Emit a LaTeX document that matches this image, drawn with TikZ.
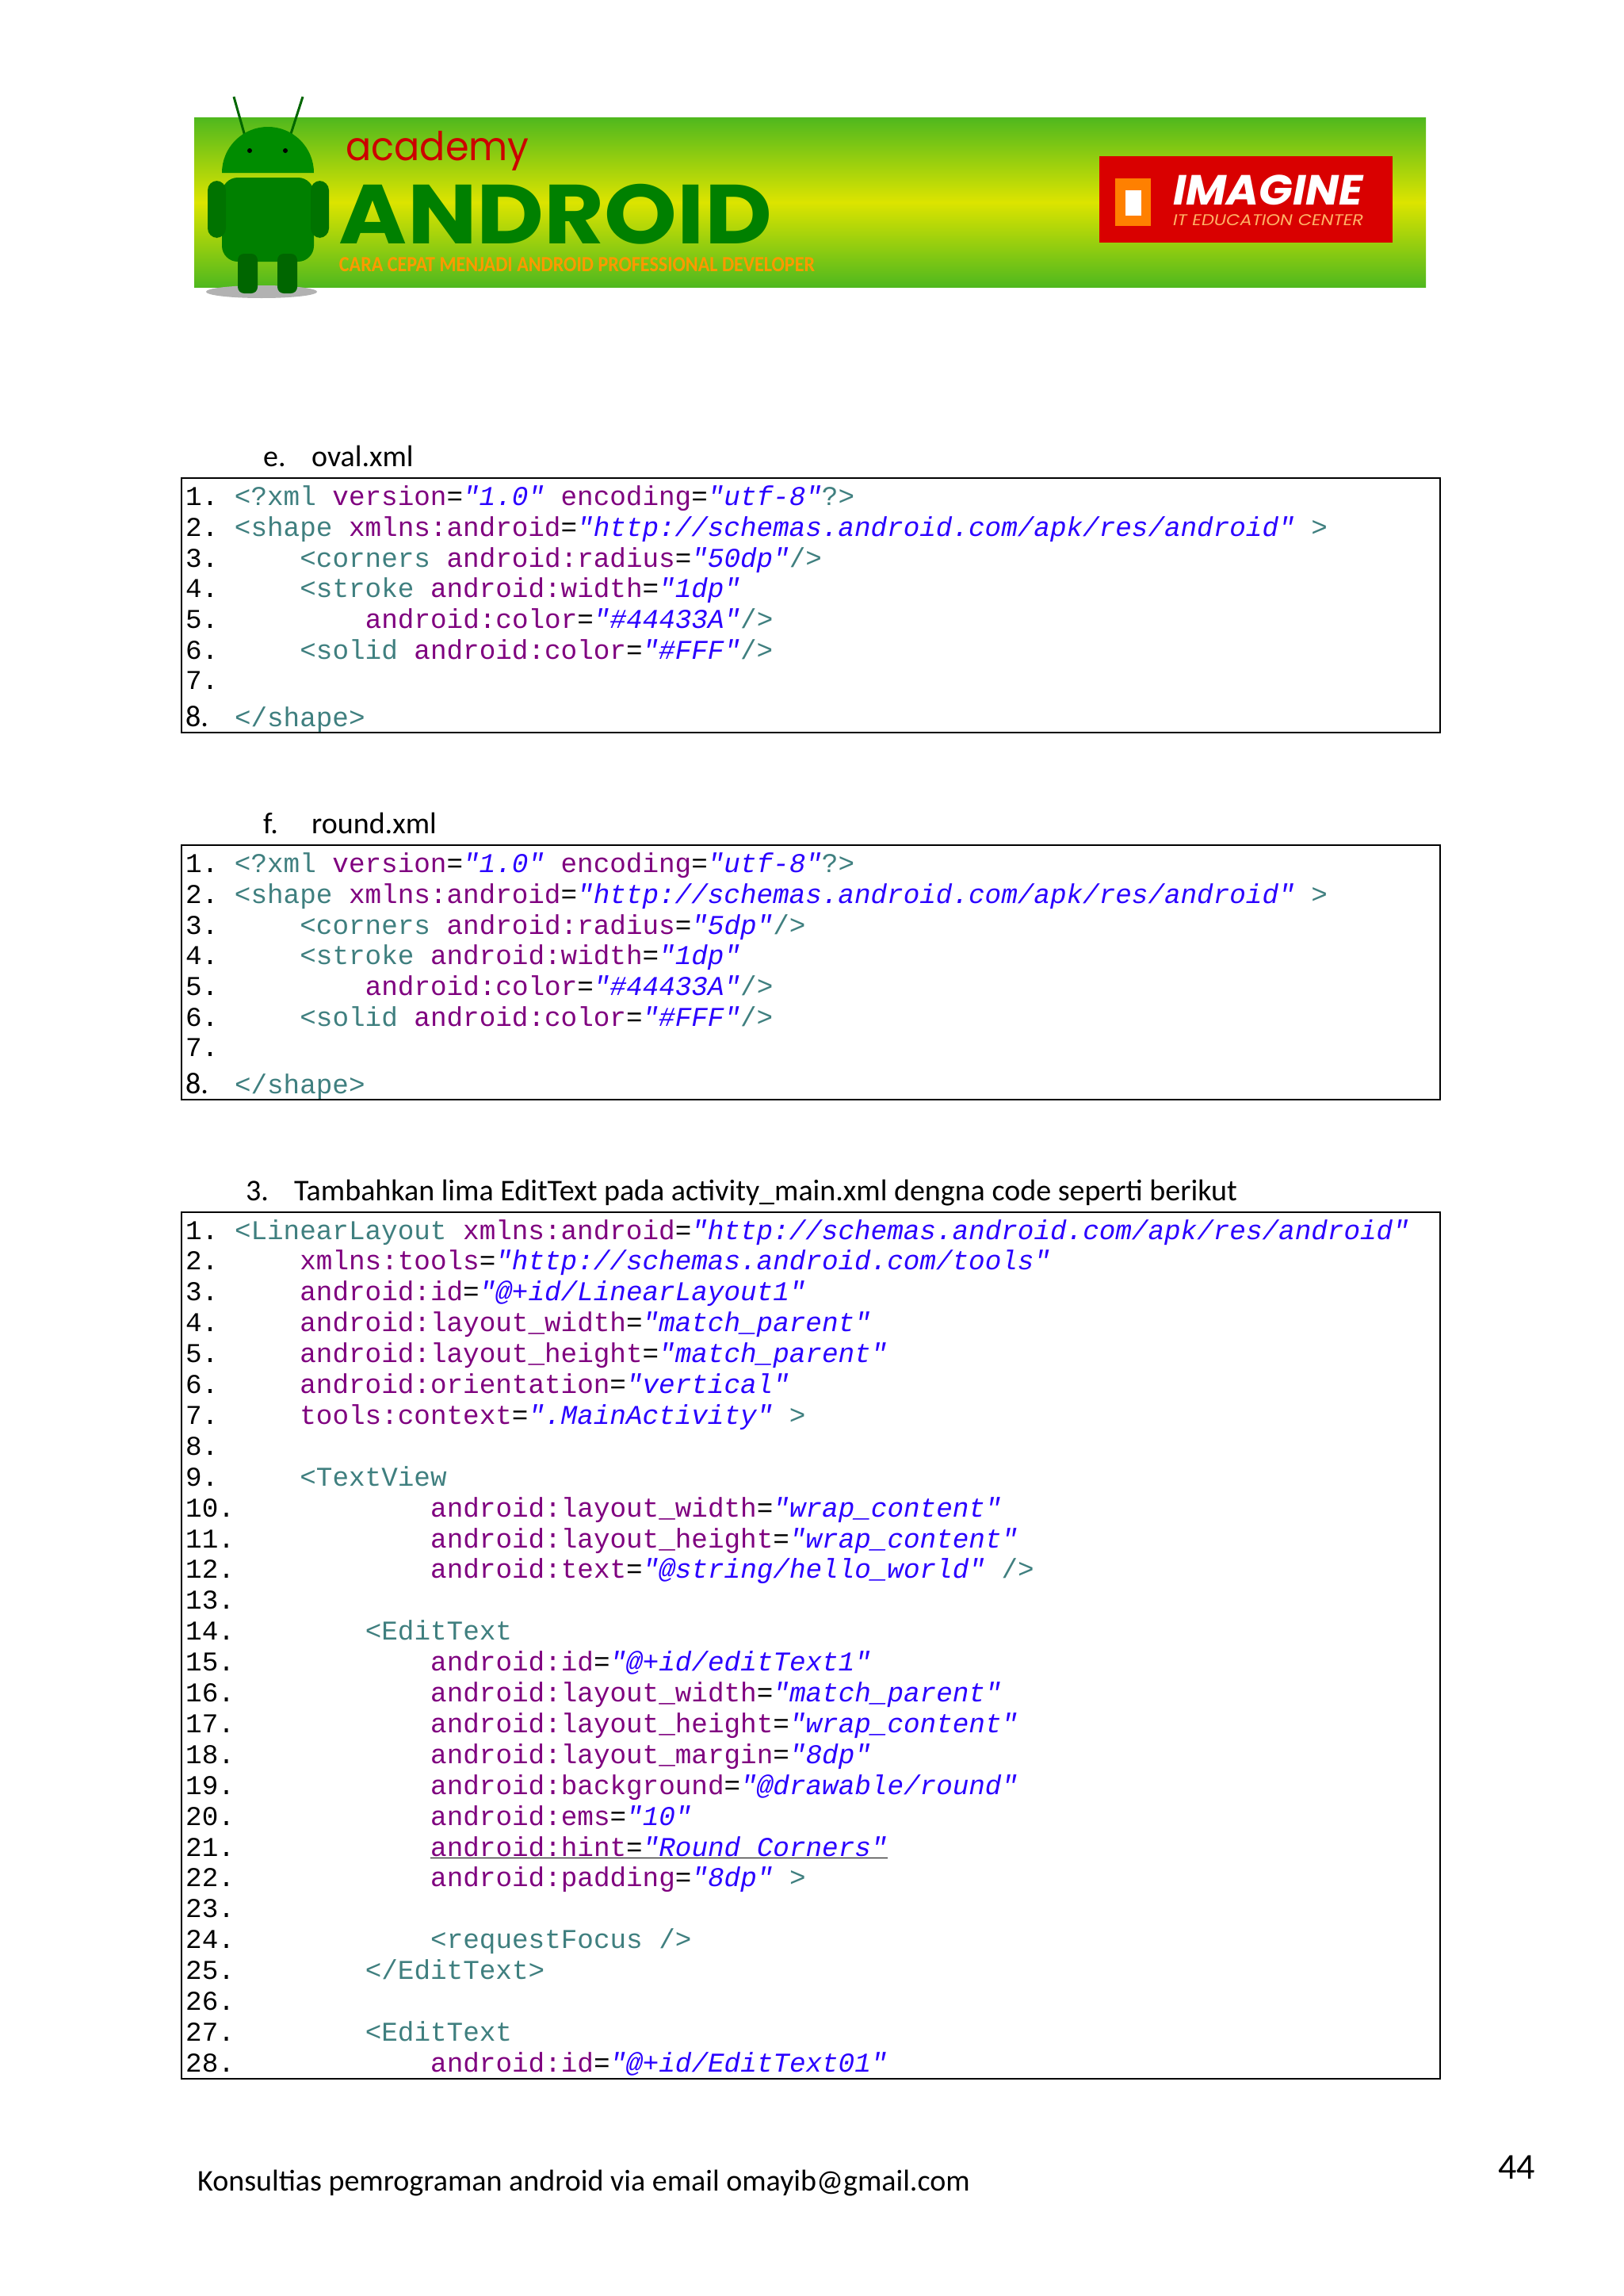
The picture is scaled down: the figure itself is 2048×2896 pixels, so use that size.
\documentclass[tikz,border=0pt]{standalone}
\usepackage{fontspec}
\setmainfont{Carlito}
\setmonofont{Liberation Mono}
\newfontfamily\popfont{Poppins}
\usetikzlibrary{shapes.geometric}
\definecolor{tagc}{HTML}{3F7F7F}
\definecolor{attc}{HTML}{7F007F}
\definecolor{valc}{HTML}{2A00FF}
\definecolor{bgreen}{HTML}{4FB81E}
\definecolor{byell}{HTML}{DCE400}
\newcommand\tg[1]{\textcolor{tagc}{#1}}
\newcommand\at[1]{\textcolor{attc}{#1}}
\newcommand\va[1]{\textcolor{valc}{\itshape #1}}
\tikzset{code/.style={anchor=base west,inner sep=0pt,font=\ttfamily\fontsize{34.3}{40}\selectfont},
 head/.style={anchor=base west,inner sep=0pt,font=\fontsize{38}{44}\selectfont},
 box/.style={draw=black,line width=2pt}}
\newcommand\cl[4]{\node[code] (#1) at ({234+#3*20.6},{#2+4}) {#4};}
\begin{document}
\begin{tikzpicture}[x=1pt,y=-1pt]
\useasboundingbox[fill=white] (0,0) rectangle (2048,2896);
% banner
\shade[top color=bgreen, bottom color=byell] (245,148) rectangle (1799,255);
\shade[top color=byell, bottom color=bgreen] (245,255) rectangle (1799,362);
\fill[red!85!black] (1387,197) rectangle (1757,306);
\node[inner sep=0pt,text=white] (im) at (1600,240) {\resizebox*{240pt}{38pt}{\popfont\bfseries\itshape IMAGINE}};
\node[inner sep=0pt,text=orange!60] (itc) at (1600,278) {\resizebox*{240pt}{14pt}{\popfont\itshape IT EDUCATION CENTER}};
\fill[orange] (1407,225) rectangle (1452,285);
\fill[white] (1420,240) rectangle (1440,272);
\node[inner sep=0pt,text=red!80!black] (acad) at (552,190) {\resizebox*{231pt}{50pt}{\popfont academy}};
\node[inner sep=0pt,text=green!50!black] (andr) at (701,270) {\resizebox*{546pt}{76pt}{\popfont\bfseries ANDROID}};
\node[inner sep=0pt,text=orange!80!yellow] (tagl) at (728,334) {\resizebox*{600pt}{18pt}{\bfseries CARA CEPAT MENJADI ANDROID PROFESSIONAL DEVELOPER}};
% robot
\fill[gray!60] (330,368) ellipse (70 and 8);
\draw[green!40!black,line width=3pt] (310,175) -- (295,122) (365,175) -- (382,122);
\fill[green!55!black] (280,218) arc (180:360:58) -- cycle;
\fill[green!50!black, rounded corners=20pt] (280,224) rectangle (396,330);
\fill[green!45!black, rounded corners=12pt] (262,228) rectangle (285,300) (392,228) rectangle (415,300);
\fill[green!40!black, rounded corners=8pt] (300,320) rectangle (325,370) (350,320) rectangle (375,370);
\fill[black] (315,190) circle (3) (360,190) circle (3);
% headings
\node[head] (he) at (332,588) {e.};
\node[head] (ht) at (393,588) {oval.xml};
\node[head] (hf) at (332,1051) {f.};
\node[head] (hft) at (393,1051) {round.xml};
\node[head] (h3) at (310,1514) {3.};
\node[head] (h3t) at (371,1514) {Tambahkan lima EditText pada activity\_main.xml dengna code seperti berikut};
% oval box
\draw[box] (229,603) rectangle (1817,924);
\foreach \n/\b in {o/603,r/1066}{
\cl{\n1}{\b+30}{0}{1. \tg{<?xml} \at{version}=\va{"1.0"} \at{encoding}=\va{"utf-8"}\tg{?>}}
\cl{\n2}{\b+69}{0}{2. \tg{<shape} \at{xmlns:android}=\va{"http://schemas.android.com/apk/res/android"} \tg{>}}
\cl{\n4}{\b+146}{0}{4.}
\cl{\n4c}{\b+146}{7}{\tg{<stroke} \at{android:width}=\va{"1dp"}}
\cl{\n5}{\b+185}{0}{5.}
\cl{\n5c}{\b+185}{11}{\at{android:color}=\va{"\#44433A"}\tg{/>}}
\cl{\n6}{\b+224}{0}{6.}
\cl{\n6c}{\b+224}{7}{\tg{<solid} \at{android:color}=\va{"\#FFF"}\tg{/>}}
\cl{\n7}{\b+262}{0}{7.}
\node[anchor=base west,inner sep=0pt,font=\fontsize{38}{44}\selectfont] (\n8) at (234,{\b+313}) {8.};
\cl{\n8c}{\b+309}{3}{\tg{</shape>}}
\cl{\n3}{\b+108}{0}{3.}
}
\cl{o3c}{711}{7}{\tg{<corners} \at{android:radius}=\va{"50dp"}\tg{/>}}
\draw[box] (229,1066) rectangle (1817,1387);
\cl{r3c}{1174}{7}{\tg{<corners} \at{android:radius}=\va{"5dp"}\tg{/>}}
% big box
\draw[box] (229,1529) rectangle (1817,2622);
\foreach \i/\c/\t in {
1/3/{\tg{<LinearLayout} \at{xmlns:android}=\va{"http://schemas.android.com/apk/res/android"}},
2/7/{\at{xmlns:tools}=\va{"http://schemas.android.com/tools"}},
3/7/{\at{android:id}=\va{"@+id/LinearLayout1"}},
4/7/{\at{android:layout\_width}=\va{"match\_parent"}},
5/7/{\at{android:layout\_height}=\va{"match\_parent"}},
6/7/{\at{android:orientation}=\va{"vertical"}},
7/7/{\at{tools:context}=\va{".MainActivity"} \tg{>}},
8/7/{},
9/7/{\tg{<TextView}},
10/15/{\at{android:layout\_width}=\va{"wrap\_content"}},
11/15/{\at{android:layout\_height}=\va{"wrap\_content"}},
12/15/{\at{android:text}=\va{"@string/hello\_world"} \tg{/>}},
13/15/{},
14/11/{\tg{<EditText}},
15/15/{\at{android:id}=\va{"@+id/editText1"}},
16/15/{\at{android:layout\_width}=\va{"match\_parent"}},
17/15/{\at{android:layout\_height}=\va{"wrap\_content"}},
18/15/{\at{android:layout\_margin}=\va{"8dp"}},
19/15/{\at{android:background}=\va{"@drawable/round"}},
20/15/{\at{android:ems}=\va{"10"}},
21/15/{\underline{\at{android:hint}=\va{"Round Corners"}}},
22/15/{\at{android:padding}=\va{"8dp"} \tg{>}},
23/15/{},
24/15/{\tg{<requestFocus />}},
25/11/{\tg{</EditText>}},
26/11/{},
27/11/{\tg{<EditText}},
28/15/{\at{android:id}=\va{"@+id/EditText01"}}}{
\cl{b\i}{1559+(\i-1)*38.9}{0}{\i.}
\cl{b\i c}{1559+(\i-1)*38.9}{\c}{\t}
}
% footer
\node[head] (foot) at (249,2763) {Konsultias pemrograman android via email omayib@gmail.com};
\node[anchor=base west,inner sep=0pt,font=\fontsize{46}{52}\selectfont] (pg) at (1890,2748) {44};
\end{tikzpicture}
\end{document}
